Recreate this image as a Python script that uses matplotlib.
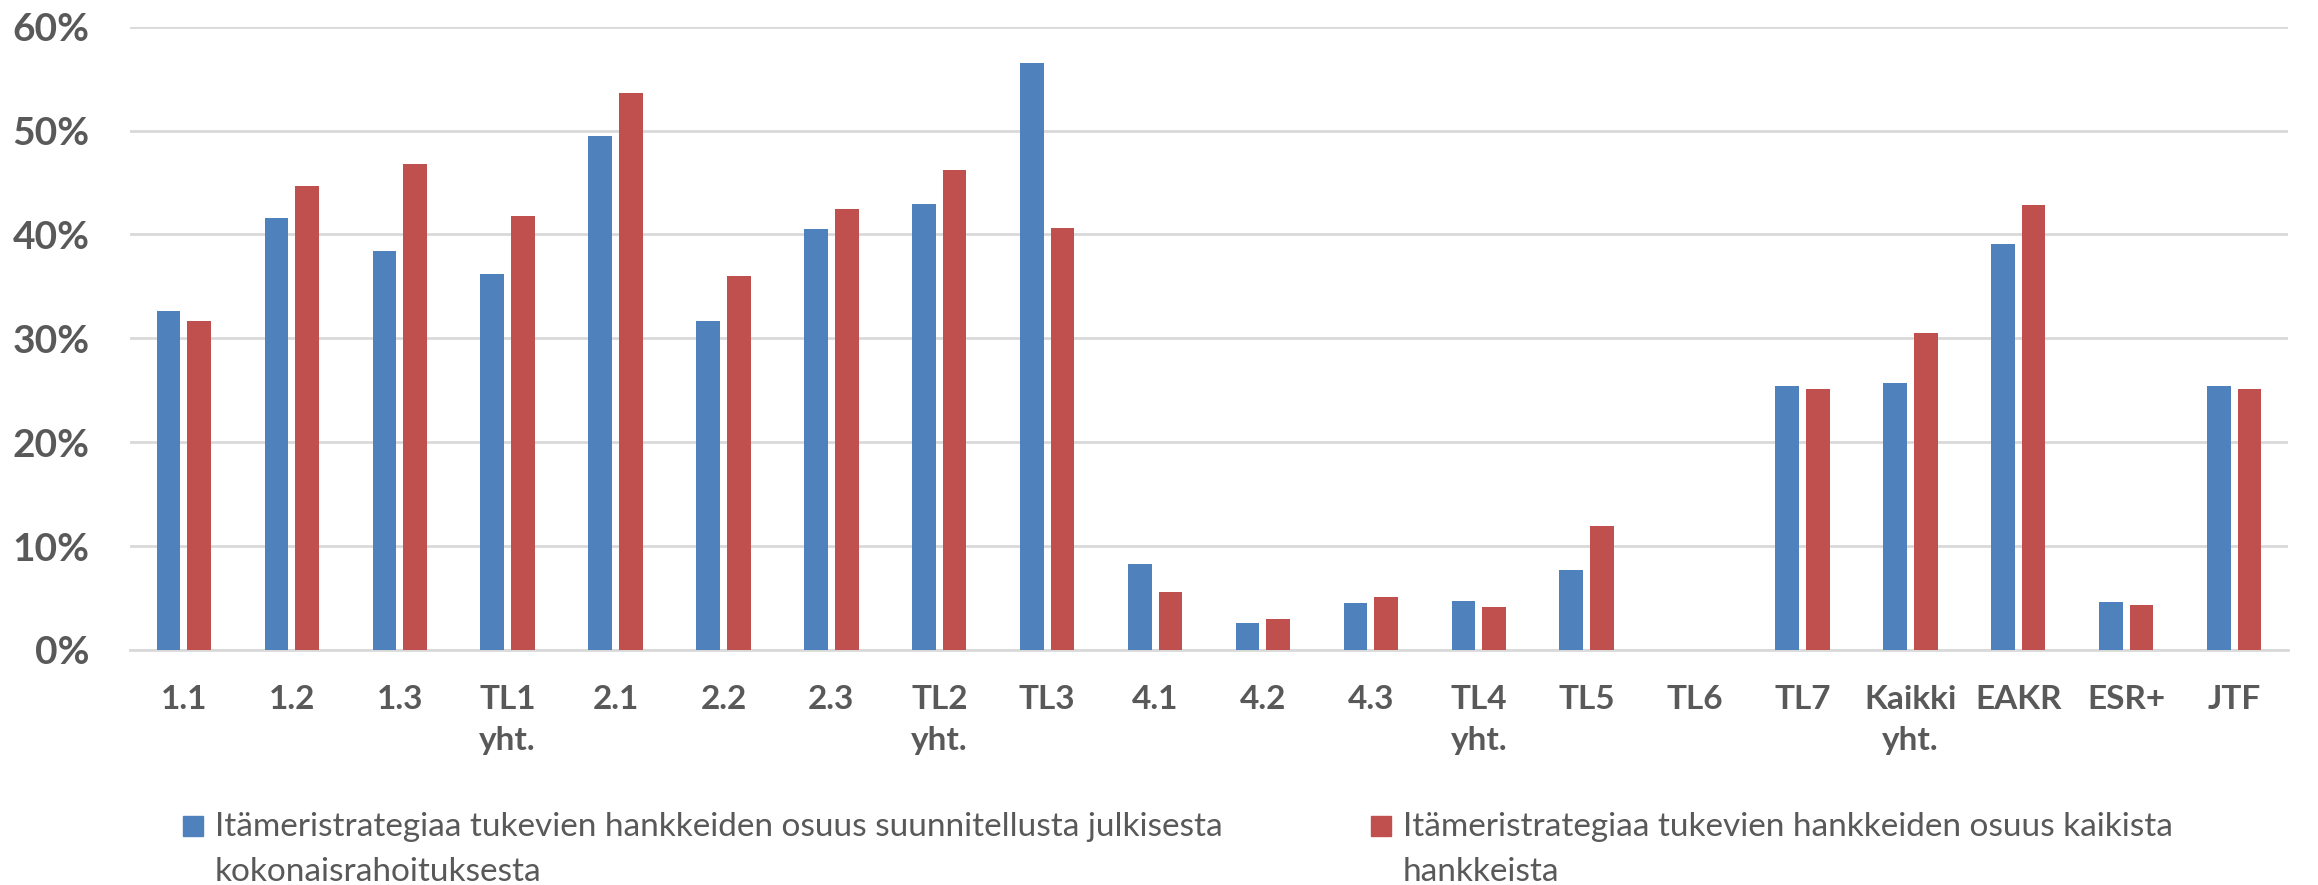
import matplotlib
matplotlib.use("Agg")
import matplotlib.pyplot as plt
from matplotlib.patches import Rectangle
from matplotlib.ticker import FuncFormatter
import numpy as np

categories = ["1.1", "1.2", "1.3", "TL1\nyht.", "2.1", "2.2", "2.3", "TL2\nyht.", "TL3",
              "4.1", "4.2", "4.3", "TL4\nyht.", "TL5", "TL6", "TL7", "Kaikki\nyht.",
              "EAKR", "ESR+", "JTF"]
share_public_funding = [32.6, 41.6, 38.4, 36.2, 49.5, 31.7, 40.5, 42.9, 56.5,
                        8.3, 2.6, 4.5, 4.7, 7.7, 0.0, 25.4, 25.7, 39.1, 4.6, 25.4]
share_all_projects = [31.7, 44.7, 46.8, 41.8, 53.6, 36.0, 42.4, 46.2, 40.6,
                      5.6, 3.0, 5.1, 4.1, 11.9, 0.0, 25.1, 30.5, 42.8, 4.3, 25.1]
series_labels = [
    ["Itämeristrategiaa tukevien hankkeiden osuus suunnitellusta julkisesta",
     "kokonaisrahoituksesta"],
    ["Itämeristrategiaa tukevien hankkeiden osuus kaikista", "hankkeista"],
]
yticks = [0, 10, 20, 30, 40, 50, 60]

BLUE = "#4F81BD"
RED = "#C0504D"
TXT = "#595959"
GRID = "#D9D9D9"
FONT = ["Lato", "DejaVu Sans"]

W, H = 2318, 885
fig = plt.figure(figsize=(W / 100, H / 100), dpi=100)
ax = fig.add_axes([130 / W, 1 - 650 / H, (2288 - 130) / W, (650 - 26.6) / H])

x = np.arange(len(categories))
bw = 0.22
off = 0.142
ax.bar(x - off, share_public_funding, width=bw, color=BLUE, zorder=3)
ax.bar(x + off, share_all_projects, width=bw, color=RED, zorder=3)

ax.set_xlim(-0.5, len(categories) - 0.5)
ax.set_ylim(0, 60)
ax.set_yticks(yticks)
ax.yaxis.set_major_formatter(FuncFormatter(lambda v, p: f"{v:.0f}%"))
ax.grid(axis="y", color=GRID, linewidth=2, zorder=0)
ax.set_axisbelow(True)
for s in ["top", "right", "left"]:
    ax.spines[s].set_visible(False)
ax.spines["bottom"].set_color(GRID)
ax.spines["bottom"].set_linewidth(2)
ax.tick_params(axis="both", length=0)
ax.tick_params(axis="y", pad=29, labelcolor=TXT)
ax.tick_params(axis="x", pad=25, labelcolor=TXT)

ax.set_xticks(x)
ax.set_xticklabels(categories, family=FONT,
                   fontweight="bold", fontsize=24, linespacing=1.5, va="top")
for lab in ax.get_yticklabels():
    lab.set_family(FONT)
    lab.set_fontweight("bold")
    lab.set_fontsize(28)

# legend
entries = [(183, 215, BLUE, series_labels[0]), (1371, 1403, RED, series_labels[1])]
for mx, tx, col, lines in entries:
    fig.patches.append(Rectangle((mx / W, 1 - 836 / H), 20 / W, 20 / H,
                                 transform=fig.transFigure, color=col))
    for i, ln in enumerate(lines):
        fig.text(tx / W, 1 - (836 + 45 * i) / H, ln,
                 family=FONT, fontsize=24, color=TXT, va="baseline", ha="left")

fig.savefig("out.png", dpi=100)
